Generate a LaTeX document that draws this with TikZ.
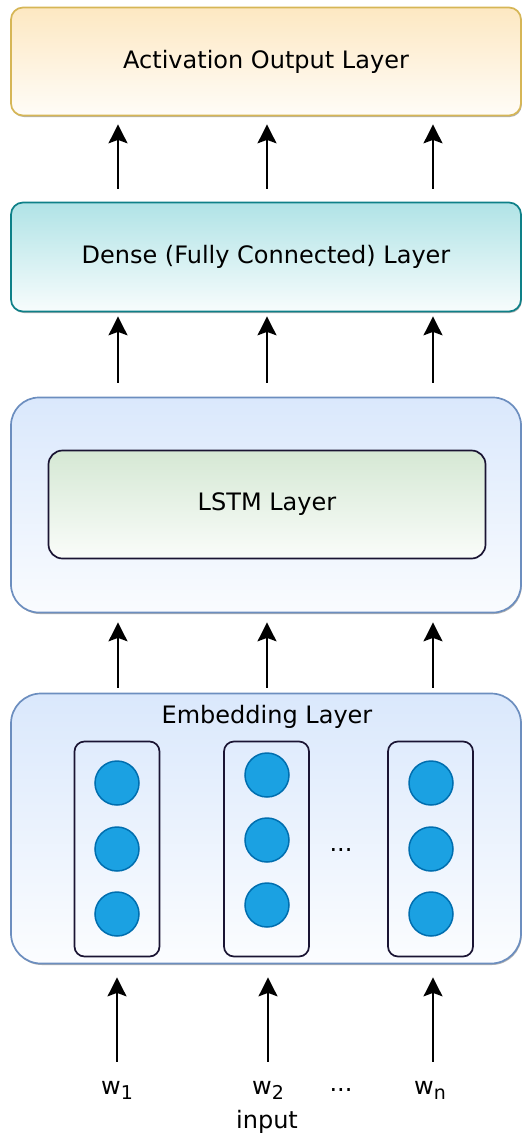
\documentclass[tikz,border=0pt]{standalone}
\usepackage{fontspec}
\setmainfont{DejaVu Sans}
\usetikzlibrary{arrows.meta,calc,shadows}
\definecolor{actc}{HTML}{FDE8C2}
\definecolor{actb}{HTML}{D6B656}
\definecolor{denc}{HTML}{B0E3E6}
\definecolor{denb}{HTML}{0E8088}
\definecolor{bluc}{HTML}{DAE8FC}
\definecolor{blub}{HTML}{6C8EBF}
\definecolor{grnc}{HTML}{D5E8D4}
\definecolor{darkb}{HTML}{1A1433}
\definecolor{dotc}{HTML}{1BA1E2}
\definecolor{dotb}{HTML}{006EAF}
\tikzset{
  layer/.style={draw, line width=1.7pt, minimum width=510pt, inner sep=0pt,
    font=\fontsize{24}{28}\selectfont,
    drop shadow={shadow xshift=0.8pt, shadow yshift=-1.5pt, opacity=0.3, fill=black}},
  colbox/.style={draw=darkb, line width=1.7pt, rounded corners=10pt, minimum width=85pt, minimum height=215pt, inner sep=0pt},
  unit/.style={circle, draw=dotb, fill=dotc, line width=1.5pt, minimum size=44pt, inner sep=0pt},
  arr/.style={draw=black, line width=1.7pt, -{Stealth[length=19pt,width=19pt,inset=3.5pt]}},
  lbl/.style={font=\fontsize{24}{28}\selectfont, inner sep=0pt},
}
\newcommand{\wsub}[1]{w\raisebox{-0.45ex}{\fontsize{19}{22}\selectfont #1}}
\begin{document}
\begin{tikzpicture}[x=1pt,y=-1pt]
\useasboundingbox (0,0) rectangle (531,1138);
% layers
\node[layer, rounded corners=12pt, draw=actb, top color=actc, bottom color=actc!12, minimum height=108pt] (act) at (266,61.5) {Activation Output Layer};
\node[layer, rounded corners=12pt, draw=denb, top color=denc, bottom color=denc!10, minimum height=109pt] (dense) at (266,257) {Dense (Fully Connected) Layer};
\node[layer, rounded corners=28pt, draw=blub, top color=bluc, bottom color=bluc!15, minimum height=215pt] (lstmo) at (266,505) {};
\node[draw=darkb, line width=1.7pt, rounded corners=14pt, top color=grnc, bottom color=grnc!12, minimum width=437pt, minimum height=108pt, inner sep=0pt, font=\fontsize{24}{28}\selectfont] (lstm) at (267,504.5) {LSTM Layer};
\node[layer, rounded corners=30pt, draw=blub, top color=bluc, bottom color=bluc!10, minimum height=270pt] (emb) at (266,828.5) {};
\node[lbl] (embt) at (267,717) {Embedding Layer};
% embedding columns
\node[colbox] (col1) at (117,849) {};
\node[colbox] (col2) at (266.5,849) {};
\node[colbox] (col3) at (430.5,849) {};
\node[unit] (u11) at (117,783) {};
\node[unit] (u12) at (117,849) {};
\node[unit] (u13) at (117,914) {};
\node[unit] (u21) at (267,775) {};
\node[unit] (u22) at (267,840) {};
\node[unit] (u23) at (267,905) {};
\node[unit] (u31) at (431,783) {};
\node[unit] (u32) at (431,849) {};
\node[unit] (u33) at (431,914) {};
\node[lbl, anchor=base] (edots) at (341,851) {...};
% inputs
\node[lbl, anchor=base] (w1) at (117,1094) {\wsub{1}};
\node[lbl, anchor=base] (w2) at (268,1094) {\wsub{2}};
\node[lbl, anchor=base] (wd) at (341,1091) {...};
\node[lbl, anchor=base] (wn) at (430,1094) {\wsub{n}};
\node[lbl] (inp) at (267,1122) {input};
% arrow columns
\coordinate (c1) at (118,0);
\coordinate (c2) at (267,0);
\coordinate (c3) at (433,0);
\foreach \c in {c1,c2,c3}{
  \draw[arr, shorten <=13pt, shorten >=8pt] (dense.north -| \c) -- (act.south -| \c);
  \draw[arr, shorten <=14pt, shorten >=4pt] (lstmo.north -| \c) -- (dense.south -| \c);
  \draw[arr, shorten <=5pt, shorten >=9pt] (emb.north -| \c) -- (lstmo.south -| \c);
}
\draw[arr, shorten <=19pt, shorten >=13pt] (w1.north) -- (emb.south -| w1);
\draw[arr, shorten <=19pt, shorten >=13pt] (w2.north) -- (emb.south -| w2);
\draw[arr, shorten <=19pt, shorten >=13pt] (wn.north -| c3) -- (emb.south -| c3);
\end{tikzpicture}
\end{document}
